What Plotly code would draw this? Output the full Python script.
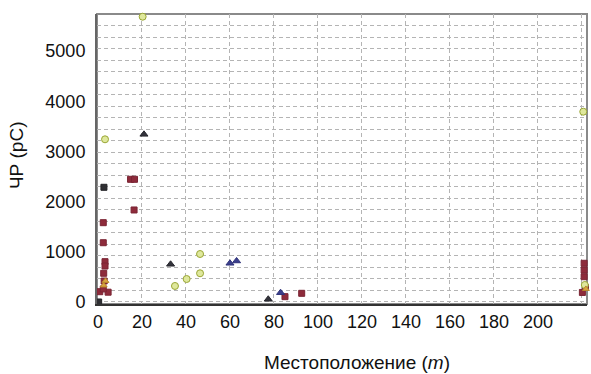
import plotly.graph_objects as go

# Partial discharge magnitude (pC) against location along the cable (m)
maroon_x = [14.8, 16.6, 16.4, 2.4, 2.4, 3.2, 3.2, 2.6, 2.8, 0.8, 4.6, 2.4, 85.0, 92.6, 221.0, 221.0, 221.0, 220.2, 221.6]
maroon_y = [2444, 2444, 1833, 1580, 1181, 803, 717, 572, 418, 205, 195, 260, 106, 173, 771, 637, 504, 190, 290]

dark_sq_x = [2.7, 0.3, 222.6]
dark_sq_y = [2285, 0, 0]

dark_tri_x = [20.9, 33.0, 77.4]
dark_tri_y = [3340, 751, 54]

blue_tri_x = [60.0, 63.0, 83.0]
blue_tri_y = [771, 817, 185]

green_x = [20.3, 3.2, 35.0, 40.3, 46.4, 46.4, 220.6, 221.3]
green_y = [5683, 3241, 319, 458, 572, 956, 3791, 339]

orange_x = [2.6, 3.4, 221.8]
orange_y = [330, 420, 260]

x_ticks = [0, 20, 40, 60, 80, 100, 120, 140, 160, 180, 200]
y_ticks = [0, 1000, 2000, 3000, 4000, 5000]

fig = go.Figure()

def add(xs, ys, symbol, fill, line, size):
    fig.add_trace(go.Scatter(
        x=xs, y=ys, mode="markers", cliponaxis=False, showlegend=False,
        marker=dict(symbol=symbol, size=size, color=fill,
                    line=dict(color=line, width=1)),
    ))

add(maroon_x, maroon_y, "square", "#8e2b3b", "#7a2433", 6)
add(dark_sq_x, dark_sq_y, "square", "#2f2f33", "#222226", 6)
add(dark_tri_x, dark_tri_y, "triangle-up", "#33333b", "#26262c", 7)
add(blue_tri_x, blue_tri_y, "triangle-up", "#3b3f8c", "#30337a", 7)
add(green_x, green_y, "circle", "#dfe89c", "#9aa635", 7)
add(orange_x, orange_y, "triangle-up", "#d9a441", "#b98a2e", 6)

font = dict(family="Liberation Sans, Arial, sans-serif", size=18, color="#111")
grid_color = "#b4b4b4"
grid_dash = "4px,3px"

fig.update_xaxes(
    range=[-0.45, 222.3], tickmode="array", tickvals=x_ticks,
    ticktext=[str(v) for v in x_ticks], ticks="", showgrid=False,
    zeroline=False, showline=True, linecolor="#333", linewidth=2,
    tickfont=font,
    minor=dict(tick0=0, dtick=20, showgrid=True, gridcolor=grid_color,
               griddash=grid_dash, gridwidth=1, ticks=""),
)
fig.update_yaxes(
    range=[-40, 5737], tickmode="array", tickvals=y_ticks,
    ticktext=[str(v) for v in y_ticks], ticks="", showgrid=False,
    zeroline=False, showline=True, linecolor="#666", linewidth=2,
    tickfont=font, ticklabelstandoff=6,
    minor=dict(tick0=0, dtick=229.5, showgrid=True, gridcolor=grid_color,
               griddash=grid_dash, gridwidth=1, ticks=""),
)

fig.add_shape(type="rect", xref="paper", yref="paper", x0=0, y0=0, x1=1, y1=1,
              line=dict(color="#8a8a8a", width=2), layer="below")

fig.add_annotation(text="Местоположение (<i>m</i>)", xref="paper", yref="paper",
                   x=0.531, y=-0.203, xanchor="center", yanchor="middle",
                   showarrow=False, font=dict(font, size=19))
fig.add_annotation(text="ЧР (pC)", xref="paper", yref="paper",
                   x=-0.163, y=0.514, xanchor="center", yanchor="middle",
                   textangle=-90, showarrow=False, font=dict(font, size=19))

fig.update_layout(
    width=591, height=374,
    margin=dict(l=97, r=4, t=14, b=70),
    paper_bgcolor="white", plot_bgcolor="white",
)

fig.write_html("out.html")
